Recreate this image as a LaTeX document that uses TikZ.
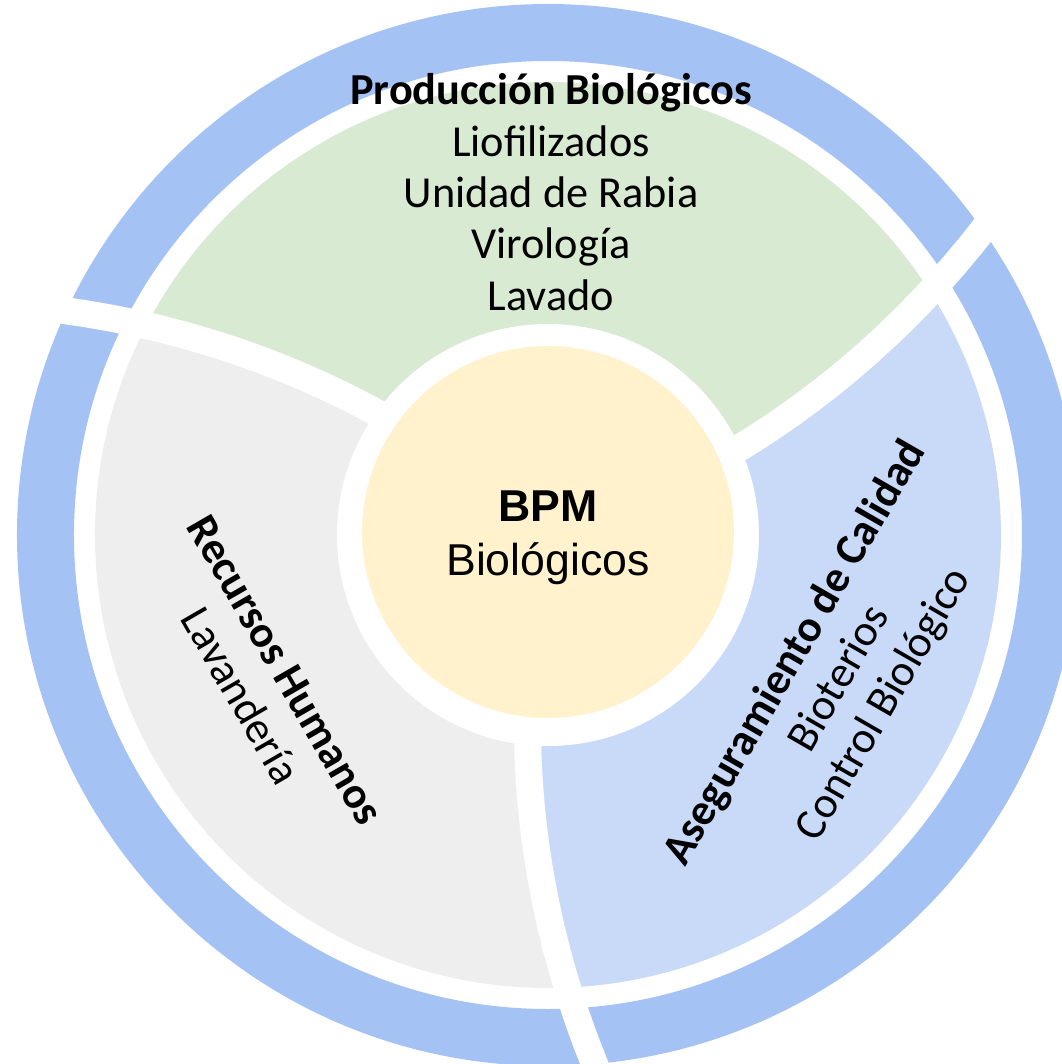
\documentclass[tikz,border=0pt]{standalone}
\usepackage{fontspec}
\setmainfont{Carlito}
\newfontfamily\arialfont{Liberation Sans}
\usepackage{tikz}
\usetikzlibrary{positioning}
\definecolor{ringblue}{HTML}{A4C2F4}
\definecolor{prodgreen}{HTML}{D9EAD3}
\definecolor{rrhhgrey}{HTML}{EEEEEE}
\definecolor{calblue}{HTML}{C9DAF8}
\definecolor{bpmyellow}{HTML}{FFF2CC}

\begin{document}
\begin{tikzpicture}[
    declare function={gapang(\r)=24.5+3.3*(\r-2.12);},
    gapline/.style={white, line width=0.27cm},
    seclbl/.style={align=center, font=\fontsize{12.6}{14.6}\selectfont},
    midlbl/.style={align=center, font=\arialfont\fontsize{12.7}{15.5}\selectfont}]
      \useasboundingbox (-5.48,-5.29) rectangle (5.13,5.35);
      \coordinate (c) at (0,0);
      \coordinate (t1) at (0.03,3.43);
      \coordinate (t2) at (-2.85,-1.48);
      \coordinate (t3) at (2.92,-1.44);

      % outer ring
      \fill[ringblue, even odd rule] (c) circle (5.31) (c) circle (4.74);
      % sectors
      \foreach \b/\col in {0/prodgreen, 120/rrhhgrey, 240/calblue}
        \fill[\col] plot[domain=2:4.53, samples=12] ({\b+gapang(\x)}:\x)
          arc[start angle={\b+gapang(4.53)}, delta angle=120, radius=4.53]
          -- plot[domain=4.53:2, samples=12] ({\b+120+gapang(\x)}:\x) -- cycle;
      % white cuts
      \foreach \b in {0, 120, 240}
        \draw[gapline] plot[domain=2:5.6, samples=16] ({\b+gapang(\x)}:\x);

      \fill[white] (c) circle (2.11);
      \fill[bpmyellow] (0,0.03) circle (1.86);

      \node[midlbl] (bpm) at (0,-0.03) {\textbf{BPM}\\Biológicos};
      \node[seclbl] (prod) at (t1) {\textbf{Producción Biológicos}\\Liofilizados\\Unidad de Rabia\\Virología\\Lavado};
      \node[seclbl, rotate=-60] (rrhh) at (t2) {\textbf{Recursos Humanos}\\Lavandería};
      \node[seclbl, rotate=60] (cal) at (t3) {\textbf{Aseguramiento de Calidad}\\Bioterios\\Control Biológico};
    \end{tikzpicture}
\end{document}
